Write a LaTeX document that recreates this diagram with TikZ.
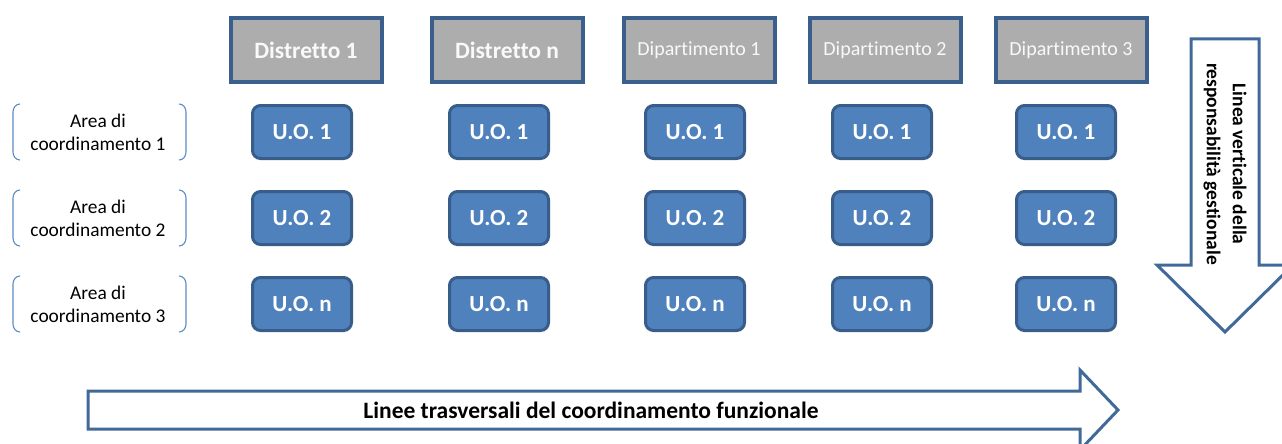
\documentclass[tikz,border=0pt]{standalone}
\usepackage{fontspec}
\setmainfont{Carlito}[Ligatures=NoCommon]
\definecolor{hdrfill}{HTML}{ADADAD}
\definecolor{hdrline}{HTML}{3B5F8C}
\definecolor{uofill}{HTML}{4F81BD}
\definecolor{uoline}{HTML}{385D8A}
\definecolor{arrline}{HTML}{41699A}
\definecolor{brkline}{HTML}{5B8BC6}
\tikzset{
  hdr/.style={draw=hdrline, line width=4pt, fill=hdrfill, text=white!95!gray,
    minimum width=151pt, minimum height=63pt, inner sep=0pt},
  uo/.style={draw=uoline, line width=3pt, fill=uofill, text=white, rounded corners=8pt,
    minimum width=99pt, minimum height=53pt, inner sep=0pt, font=\fontsize{23}{26}\selectfont\bfseries},
  area/.style={align=center, inner sep=0pt, font=\fontsize{19.4}{23}\selectfont},
  bigarrow/.style={draw=arrline, line width=3pt, fill=white, line join=miter},
  brk/.style={draw=brkline, line width=1.1pt},
}
\begin{document}
\begin{tikzpicture}[x=1pt, y=-1pt]
    \useasboundingbox (0,0) rectangle (1282,444);
    % intestazioni
    \node (d1) at (306, 50) [hdr, font=\fontsize{23.5}{26}\selectfont\bfseries] {Distretto 1};
    \node (dn) at (507, 50) [hdr, font=\fontsize{23.5}{26}\selectfont\bfseries] {Distretto n};
    \node (p1) at (699, 50) [hdr, font=\fontsize{20}{24}\selectfont] {Dipartimento 1};
    \node (p2) at (885, 50) [hdr, font=\fontsize{20}{24}\selectfont] {Dipartimento 2};
    \node (p3) at (1071, 50) [hdr, font=\fontsize{20}{24}\selectfont] {Dipartimento 3};
    % unita operative
    \foreach \col/\x in {a/302, b/499, c/695, d/882, e/1066} {
        \node (\col1) at (\x, 132) [uo] {U.O. 1};
        \node (\col2) at (\x, 218) [uo] {U.O. 2};
        \node (\col3) at (\x, 304) [uo] {U.O. n};
    }
    % aree di coordinamento
    \foreach \r/\y in {1/132, 2/218, 3/304} {
        \node (area\r) at (98, \y) [area] {Area di\\coordinamento \r};
        \draw[brk] (20, \y-28) to[out=180, in=90] (13, \y-20) -- (13, \y+20) to[out=-90, in=180] (20, \y+28);
        \draw[brk] (179, \y-28) to[out=0, in=90] (186, \y-20) -- (186, \y+20) to[out=-90, in=0] (179, \y+28);
    }
    % freccia verticale
    \draw[bigarrow] (1191, 39) -- (1259, 39) -- (1259, 265) -- (1293, 265) -- (1225, 332)
        -- (1157, 265) -- (1191, 265) -- cycle;
    \node (vert) at (1225, 164) [rotate=-90, align=center, font=\fontsize{19.5}{26}\selectfont\bfseries]
        {Linea verticale della\\responsabilità gestionale};
    % freccia orizzontale
    \draw[bigarrow] (88, 391) -- (1080, 391) -- (1080, 370) -- (1118, 410) -- (1080, 450)
        -- (1080, 429) -- (88, 429) -- cycle;
    \node (oriz) at (591, 410) [font=\fontsize{23.5}{26}\selectfont\bfseries] {Linee trasversali del coordinamento funzionale};
\end{tikzpicture}
\end{document}
